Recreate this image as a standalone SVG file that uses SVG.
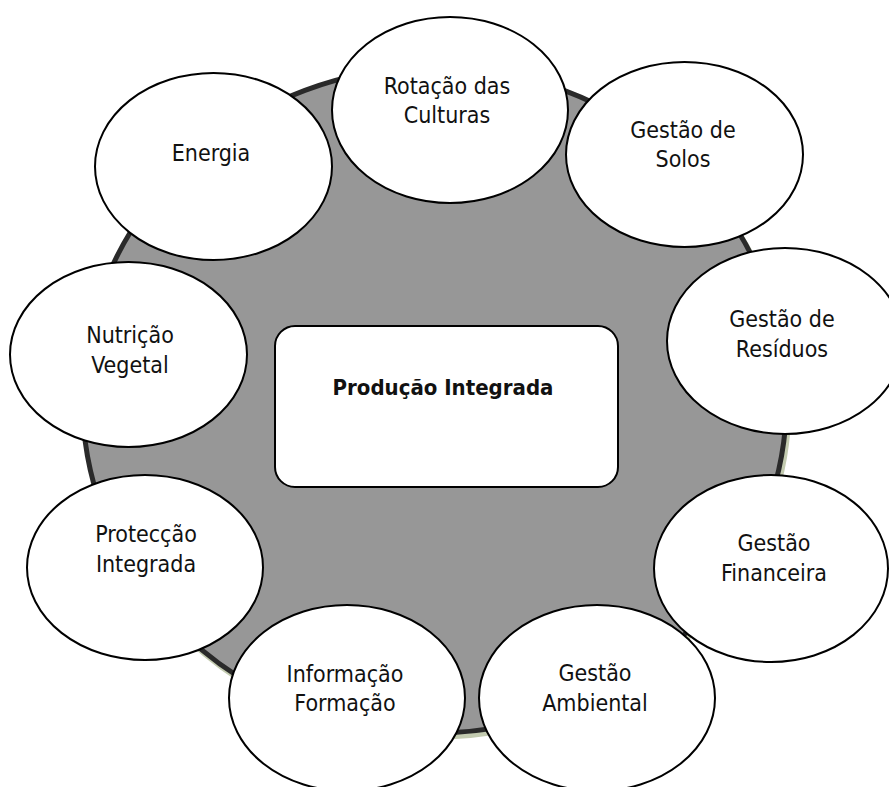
<svg xmlns="http://www.w3.org/2000/svg" width="889" height="787" viewBox="0 0 889 787">
<style>
.bg{fill:#ffffff}
.ring{fill:#979797;stroke:#2a2a2a;stroke-width:5}
.shadow{fill:none;stroke:#c3cbb0;stroke-width:5}
.node{fill:#ffffff;stroke:#000000;stroke-width:2}
.lbl{font-family:"DejaVu Sans Condensed","DejaVu Sans",sans-serif;font-stretch:condensed;font-size:23px;fill:#111111;text-anchor:middle}
.title{font-family:"DejaVu Sans Condensed","DejaVu Sans",sans-serif;font-stretch:condensed;font-size:22px;font-weight:bold;fill:#111111;text-anchor:middle}
</style>
<rect class="bg" x="0" y="0" width="889" height="787"/>
<g id="ring">
<ellipse class="shadow" cx="437" cy="404" rx="352" ry="333"/>
<ellipse class="ring" cx="434.5" cy="400" rx="352" ry="333"/>
</g>
<g id="connectors"></g>
<g id="center">
<rect class="node" x="275" y="326" width="343" height="161" rx="20" ry="20"/>
<text class="title" x="443" y="395">Produção Integrada</text>
</g>
<g id="n-energia">
<ellipse class="node" cx="213.5" cy="166.5" rx="118.5" ry="93.5"/>
<text class="lbl" x="211" y="161">Energia</text>
</g>
<g id="n-rotacao">
<ellipse class="node" cx="450" cy="110" rx="118" ry="93"/>
<text class="lbl" x="447" y="94">Rotação das</text>
<text class="lbl" x="447" y="123">Culturas</text>
</g>
<g id="n-solos">
<ellipse class="node" cx="684.5" cy="154.5" rx="118.5" ry="92.5"/>
<text class="lbl" x="683" y="138">Gestão de</text>
<text class="lbl" x="683" y="167">Solos</text>
</g>
<g id="n-residuos">
<ellipse class="node" cx="785" cy="341" rx="118" ry="93"/>
<text class="lbl" x="782" y="327">Gestão de</text>
<text class="lbl" x="782" y="357">Resíduos</text>
</g>
<g id="n-financeira">
<ellipse class="node" cx="771" cy="568.5" rx="117" ry="93.5"/>
<text class="lbl" x="774" y="551">Gestão</text>
<text class="lbl" x="774" y="581">Financeira</text>
</g>
<g id="n-ambiental">
<ellipse class="node" cx="597" cy="698" rx="118" ry="93"/>
<text class="lbl" x="595" y="681">Gestão</text>
<text class="lbl" x="595" y="711">Ambiental</text>
</g>
<g id="n-informacao">
<ellipse class="node" cx="347" cy="698" rx="118" ry="93"/>
<text class="lbl" x="345" y="682">Informação</text>
<text class="lbl" x="345" y="711">Formação</text>
</g>
<g id="n-proteccao">
<ellipse class="node" cx="145" cy="567.5" rx="118" ry="92.5"/>
<text class="lbl" x="146" y="542">Protecção</text>
<text class="lbl" x="146" y="572">Integrada</text>
</g>
<g id="n-nutricao">
<ellipse class="node" cx="128.5" cy="354.5" rx="118.5" ry="92.5"/>
<text class="lbl" x="130" y="343">Nutrição</text>
<text class="lbl" x="130" y="373">Vegetal</text>
</g>
</svg>
